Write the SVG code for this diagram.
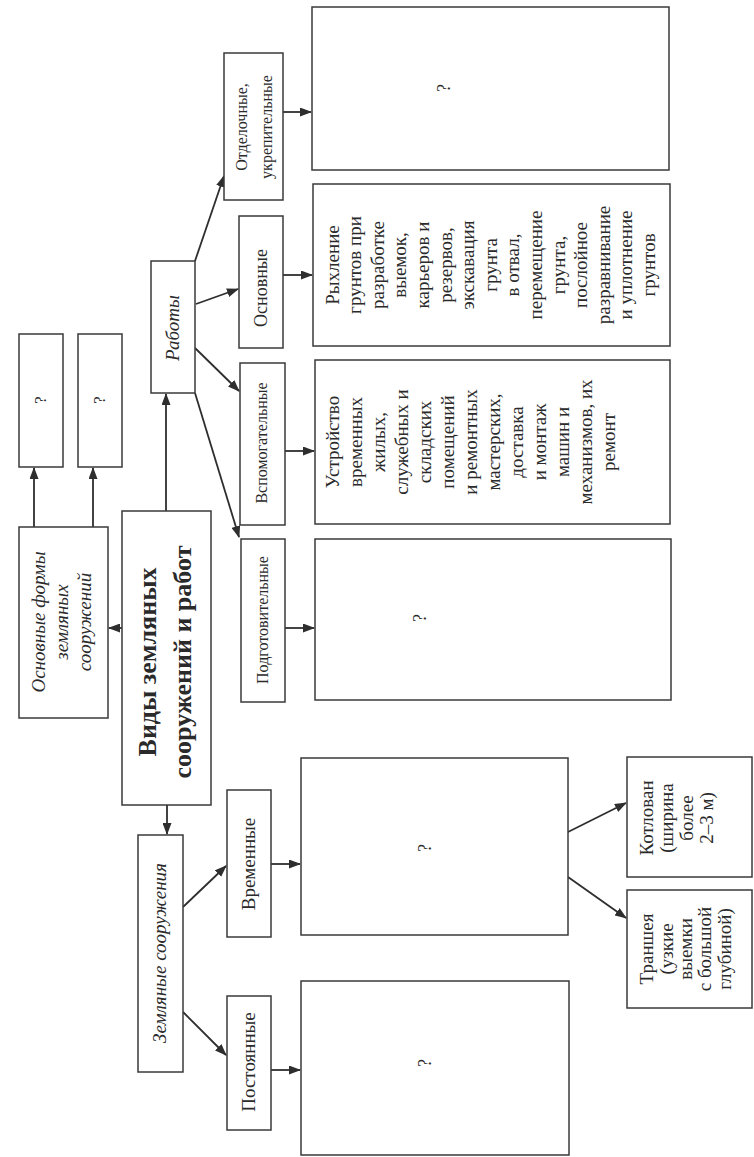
<svg xmlns="http://www.w3.org/2000/svg" width="754" height="1157" viewBox="0 0 754 1157">
<style>
.box{fill:#fff;stroke:#3a3a3a;stroke-width:1.5}
.t{font-family:"Liberation Serif","Times New Roman",serif;fill:#2a2a2a;text-anchor:middle}
.i{font-style:italic}
.b{font-weight:bold}
.c{stroke:#2e2e2e;stroke-width:1.8;fill:none;marker-end:url(#ah)}
</style>
<defs>
<marker id="ah" markerUnits="userSpaceOnUse" markerWidth="12" markerHeight="9" refX="11" refY="4.5" orient="auto">
<path d="M0,0 L12,4.5 L0,9 z" fill="#2e2e2e"/>
</marker>
</defs>
<rect width="754" height="1157" fill="#fff"/>

<g id="connectors">
<path class="c" d="M166,511 L166,394"/>
<path class="c" d="M122,628 L109,628"/>
<path class="c" d="M167,805 L167,834"/>
<path class="c" d="M34,527 L34,468"/>
<path class="c" d="M93,527 L93,468"/>
<path class="c" d="M195,261 L224,176"/>
<path class="c" d="M196,304 L238,289"/>
<path class="c" d="M195,348 L239,391"/>
<path class="c" d="M195,393 L239,537"/>
<path class="c" d="M283,112 L311,112"/>
<path class="c" d="M283,275 L312,275"/>
<path class="c" d="M285,451 L314,451"/>
<path class="c" d="M285,628 L314,628"/>
<path class="c" d="M183,907 L226,866"/>
<path class="c" d="M183,1012 L226,1055"/>
<path class="c" d="M271,864 L300,864"/>
<path class="c" d="M271,1070 L300,1070"/>
<path class="c" d="M568,832 L626,803"/>
<path class="c" d="M568,877 L626,918"/>
</g>

<g id="main">
<rect class="box" x="122" y="511" width="89" height="294"/>
<text class="t b" font-size="26" transform="translate(165,662) rotate(-90)"><tspan x="0" y="-9.5">Виды земляных</tspan><tspan x="0" dy="35">сооружений и работ</tspan></text>
</g>

<g id="forms">
<rect class="box" x="19" y="527" width="89" height="191"/>
<text class="t i" font-size="19" transform="translate(62,622) rotate(-90)"><tspan x="0" y="-17">Основные формы</tspan><tspan x="0" dy="23">земляных</tspan><tspan x="0" dy="23">сооружений</tspan></text>
</g>

<g id="form1">
<rect class="box" x="19" y="334" width="44" height="133"/>
<text class="t" font-size="17" transform="translate(41,400) rotate(-90)" y="5">?</text>
</g>

<g id="form2">
<rect class="box" x="78" y="334" width="44" height="133"/>
<text class="t" font-size="17" transform="translate(100,400) rotate(-90)" y="5">?</text>
</g>

<g id="works">
<rect class="box" x="151" y="261" width="44" height="132"/>
<text class="t i" font-size="19" transform="translate(173,328) rotate(-90)" y="6">Работы</text>
</g>

<g id="finishing">
<rect class="box" x="224" y="53" width="59" height="147"/>
<text class="t" font-size="16" transform="translate(254,127) rotate(-90)"><tspan x="0" y="-7.5">Отделочные,</tspan><tspan x="0" dy="25">укрепительные</tspan></text>
</g>

<g id="main-works">
<rect class="box" x="239" y="216" width="44" height="132"/>
<text class="t" font-size="18" transform="translate(261,288) rotate(-90)" y="6">Основные</text>
</g>

<g id="auxiliary">
<rect class="box" x="240" y="363" width="45" height="162"/>
<text class="t" font-size="16" transform="translate(262,443) rotate(-90)" y="5">Вспомогательные</text>
</g>

<g id="preparatory">
<rect class="box" x="241" y="539" width="44" height="163"/>
<text class="t" font-size="16" transform="translate(263,620) rotate(-90)" y="5">Подготовительные</text>
</g>

<g id="finishing-desc">
<rect class="box" x="312" y="7" width="357" height="163"/>
<text class="t" font-size="18" transform="translate(444,88) rotate(-90)" y="6">?</text>
</g>

<g id="main-desc">
<rect class="box" x="313" y="184" width="357" height="162"/>
<text class="t" font-size="19" transform="translate(491,265) rotate(-90)"><tspan x="0" y="-152.5">Рыхление</tspan><tspan x="0" dy="22.6">грунтов при</tspan><tspan x="0" dy="22.6">разработке</tspan><tspan x="0" dy="22.6">выемок,</tspan><tspan x="0" dy="22.6">карьеров и</tspan><tspan x="0" dy="22.6">резервов,</tspan><tspan x="0" dy="22.6">экскавация</tspan><tspan x="0" dy="22.6">грунта</tspan><tspan x="0" dy="22.6">в отвал,</tspan><tspan x="0" dy="22.6">перемещение</tspan><tspan x="0" dy="22.6">грунта,</tspan><tspan x="0" dy="22.6">послойное</tspan><tspan x="0" dy="22.6">разравнивание</tspan><tspan x="0" dy="22.6">и уплотнение</tspan><tspan x="0" dy="22.6">грунтов</tspan></text>
</g>

<g id="aux-desc">
<rect class="box" x="315" y="360" width="355" height="164"/>
<text class="t" font-size="19" transform="translate(471,442) rotate(-90)"><tspan x="0" y="-132">Устройство</tspan><tspan x="0" dy="23">временных</tspan><tspan x="0" dy="23">жилых,</tspan><tspan x="0" dy="23">служебных и</tspan><tspan x="0" dy="23">складских</tspan><tspan x="0" dy="23">помещений</tspan><tspan x="0" dy="23">и ремонтных</tspan><tspan x="0" dy="23">мастерских,</tspan><tspan x="0" dy="23">доставка</tspan><tspan x="0" dy="23">и монтаж</tspan><tspan x="0" dy="23">машин и</tspan><tspan x="0" dy="23">механизмов, их</tspan><tspan x="0" dy="23">ремонт</tspan></text>
</g>

<g id="prep-desc">
<rect class="box" x="315" y="539" width="356" height="161"/>
<text class="t" font-size="18" transform="translate(420,618) rotate(-90)" y="6">?</text>
</g>

<g id="earthworks">
<rect class="box" x="138" y="835" width="45" height="237"/>
<text class="t i" font-size="19" transform="translate(160,953) rotate(-90)" y="6">Земляные сооружения</text>
</g>

<g id="temporary">
<rect class="box" x="227" y="790" width="44" height="147"/>
<text class="t" font-size="19" transform="translate(249,864) rotate(-90)" y="6">Временные</text>
</g>

<g id="permanent">
<rect class="box" x="227" y="996" width="44" height="134"/>
<text class="t" font-size="19" transform="translate(249,1062) rotate(-90)" y="6">Постоянные</text>
</g>

<g id="temp-desc">
<rect class="box" x="301" y="758" width="267" height="177"/>
<text class="t" font-size="18" transform="translate(425,848) rotate(-90)" y="6">?</text>
</g>

<g id="perm-desc">
<rect class="box" x="301" y="981" width="268" height="174"/>
<text class="t" font-size="18" transform="translate(425,1063) rotate(-90)" y="6">?</text>
</g>

<g id="pit">
<rect class="box" x="627" y="757" width="125" height="120"/>
<text class="t" font-size="19" transform="translate(677,818) rotate(-90)"><tspan x="0" y="-24">Котлован</tspan><tspan x="0" dy="20">(ширина</tspan><tspan x="0" dy="20">более</tspan><tspan x="0" dy="20">2–3 м)</tspan></text>
</g>

<g id="trench">
<rect class="box" x="627" y="890" width="125" height="118"/>
<text class="t" font-size="19" transform="translate(686,949) rotate(-90)"><tspan x="0" y="-32.6">Траншея</tspan><tspan x="0" dy="19.3">(узкие</tspan><tspan x="0" dy="19.3">выемки</tspan><tspan x="0" dy="19.3">с большой</tspan><tspan x="0" dy="19.3">глубиной)</tspan></text>
</g>
</svg>
